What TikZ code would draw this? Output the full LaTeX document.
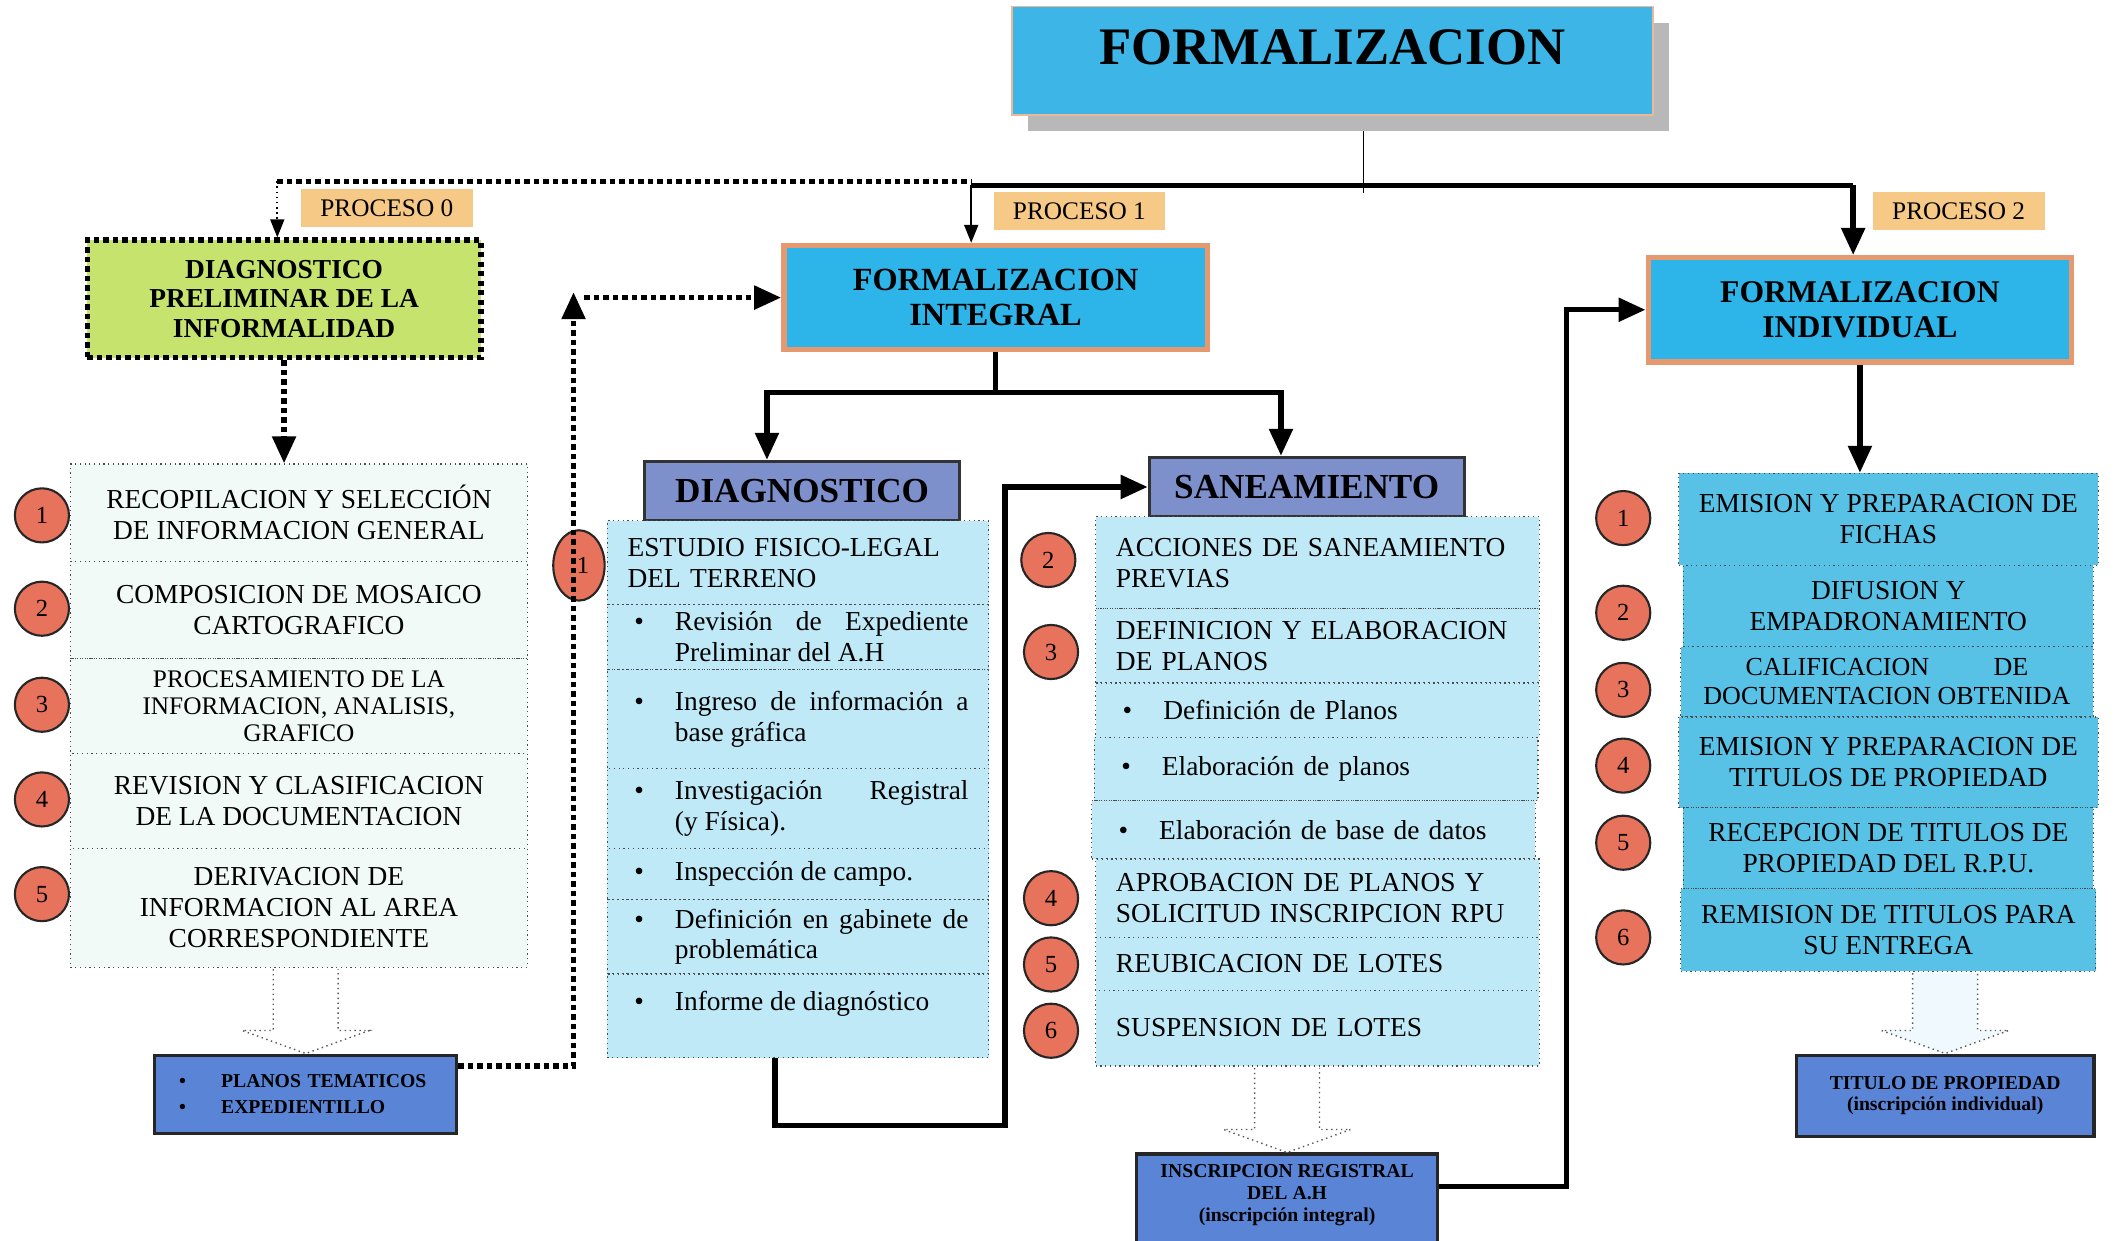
\documentclass[tikz,border=0pt]{standalone}
\usepackage{fontspec}
\setmainfont{Liberation Serif}
\usetikzlibrary{arrows.meta,calc,shadows,shapes.geometric}
\newlength{\pxu}
\setlength{\pxu}{0.13527mm}
\newcommand{\rowfont}{\fontsize{7.8}{8.8}\selectfont}
\newcommand{\bitem}[2][217]{\hspace*{5\pxu}\makebox[30\pxu][l]{\textbullet}\parbox[t]{#1\pxu}{#2}}
\definecolor{titleblue}{HTML}{3DB5E6}
\definecolor{formblue}{HTML}{2DB4E8}
\definecolor{salmon}{HTML}{E6986F}
\definecolor{peach}{HTML}{F7C986}
\definecolor{limegreen}{HTML}{C6E36E}
\definecolor{slate}{HTML}{7D90CC}
\definecolor{mint}{HTML}{F2FAF7}
\definecolor{paleblue}{HTML}{BFE9F7}
\definecolor{midblue}{HTML}{58C2E6}
\definecolor{royal}{HTML}{5A84D6}
\definecolor{coral}{HTML}{E8735C}
\tikzset{
    thickline/.style={line width=4\pxu},
    dotline/.style={line width=4\pxu, dash pattern=on 0.54mm off 0.41mm},
    bighead/.style={-{Triangle[length=2.7mm, width=2.3mm]}},
    smallhead/.style={-{Triangle[length=1.8mm, width=1.4mm]}},
    hollow/.style={draw=black!65, densely dotted, line width=0.4pt, fill=white},
    titlebox/.style={draw=salmon!70, fill=titleblue, minimum width=474\pxu, minimum height=80\pxu,
        text depth=20\pxu, font=\bfseries\fontsize{15}{17}\selectfont,
        drop shadow={shadow xshift=12\pxu, shadow yshift=-12\pxu, fill=black!28, opacity=1}},
    procbox/.style={fill=peach, minimum width=127\pxu, minimum height=28\pxu, inner sep=0pt,
        font=\fontsize{7.2}{8}\selectfont},
    prelimbox/.style={dotline, draw=black, fill=limegreen, minimum width=291\pxu, minimum height=87\pxu,
        align=center, font=\bfseries\fontsize{7.8}{8.4}\selectfont},
    formbox/.style={draw=salmon, line width=4\pxu, fill=formblue, minimum width=313\pxu,
        minimum height=77\pxu, align=center, font=\bfseries\fontsize{9.2}{10}\selectfont},
    headbox/.style={draw=black!80, line width=0.8pt, fill=slate, minimum width=233\pxu,
        minimum height=44\pxu, font=\bfseries\fontsize{10}{12}\selectfont},
    rowbox/.style={draw=black!70, densely dotted, line width=0.35pt, inner xsep=15\pxu, inner ysep=0pt,
        font=\rowfont},
    leftrow/.style={rowbox, fill=mint, minimum width=338\pxu, align=center},
    diagrow/.style={rowbox, fill=paleblue, minimum width=282\pxu, text width=252\pxu, align=left},
    sanearow/.style={rowbox, fill=paleblue, minimum width=328\pxu, text width=298\pxu, align=left},
    indrow/.style={rowbox, fill=midblue, minimum width=303\pxu, align=center},
    outbox/.style={draw=black!85, line width=0.9pt, fill=royal, align=center,
        font=\bfseries\fontsize{5.6}{6.2}\selectfont},
    numdot/.style={circle, draw=black!85, line width=0.6pt, fill=coral, minimum size=40\pxu,
        inner sep=0pt, font=\fontsize{7}{8}\selectfont}
}
\begin{document}
\begin{tikzpicture}[x=1\pxu, y=-1\pxu]
    \path[fill=white, use as bounding box] (0,0) rectangle (1568,917);

    \node[titlebox] (title) at (985,45) {FORMALIZACION};
    \node[procbox] (proc0) at (286,154) {PROCESO 0};
    \node[procbox] (proc1) at (798,156) {PROCESO 1};
    \node[procbox] (proc2) at (1448,156) {PROCESO 2};
    \node[prelimbox] (prelim) at (210,221) {DIAGNOSTICO\\PRELIMINAR DE LA\\INFORMALIDAD};
    \node[formbox] (integral) at (736,220) {FORMALIZACION\\INTEGRAL};
    \node[formbox, font=\bfseries\fontsize{9}{10.2}\selectfont] (individual) at (1375,229) {FORMALIZACION\\INDIVIDUAL};

    \node[leftrow, minimum height=72\pxu] (l1) at (221,379) {RECOPILACION Y SELECCIÓN\\DE INFORMACION GENERAL};
    \node[leftrow, minimum height=72\pxu] (l2) at (221,451) {COMPOSICION DE MOSAICO\\CARTOGRAFICO};
    \node[leftrow, minimum height=70\pxu, font=\fontsize{7.2}{7.7}\selectfont] (l3) at (221,522) {PROCESAMIENTO DE LA\\INFORMACION, ANALISIS,\\GRAFICO};
    \node[leftrow, minimum height=70\pxu] (l4) at (221,592) {REVISION Y CLASIFICACION\\DE LA DOCUMENTACION};
    \node[leftrow, minimum height=88\pxu] (l5) at (221,671) {DERIVACION DE\\INFORMACION AL AREA\\CORRESPONDIENTE};
    \node[numdot] (nl1) at (31,381) {1};
    \node[numdot] (nl2) at (31,450) {2};
    \node[numdot] (nl3) at (31,521) {3};
    \node[numdot] (nl4) at (31,591) {4};
    \node[numdot] (nl5) at (31,661) {5};
    \node[outbox, minimum width=223\pxu, minimum height=58\pxu, text width=187\pxu, inner xsep=18\pxu,
        align=left, font=\bfseries\fontsize{5.6}{7.3}\selectfont] (planos) at (226,809)
        {\makebox[31\pxu][l]{\textbullet}PLANOS TEMATICOS\\\makebox[31\pxu][l]{\textbullet}EXPEDIENTILLO};

    \node[headbox] (diaghead) at (593,363) {DIAGNOSTICO};
    \node[diagrow, minimum height=62\pxu] (d1) at (590,416) {ESTUDIO FISICO-LEGAL\\DEL TERRENO};
    \node[diagrow, align=justify, minimum height=48\pxu] (d2) at (590,471) {\bitem{Revisión de Expediente\linebreak Preliminar del A.H}};
    \node[diagrow, align=justify, minimum height=73\pxu] (d3) at (590,531.5) {\bitem{Ingreso de información a\linebreak base gráfica}};
    \node[diagrow, align=justify, minimum height=59\pxu] (d4) at (590,597.5) {\bitem{Investigación Registral\linebreak (y Física).}};
    \node[diagrow, align=justify, minimum height=38\pxu] (d5) at (590,646) {\bitem{Inspección de campo.}};
    \node[diagrow, align=justify, minimum height=55\pxu] (d6) at (590,692.5) {\bitem{Definición en gabinete de\linebreak problemática}};
    \node[diagrow, align=justify, minimum height=62\pxu, text depth=22\pxu] (d7) at (590,751) {\bitem{Informe de diagnóstico}};
    \node[numdot, ellipse, minimum width=38\pxu, minimum height=52\pxu] (nd1) at (428,418) {\hspace*{6\pxu}1};

    \node[headbox] (saneahead) at (966,360) {SANEAMIENTO};
    \node[sanearow, minimum height=68\pxu] (s1) at (974,416) {ACCIONES DE SANEAMIENTO\\PREVIAS};
    \node[sanearow, minimum height=55\pxu] (s2) at (974,477.5) {DEFINICION Y ELABORACION\\DE PLANOS};
    \node[sanearow, minimum height=40\pxu] (s3) at (974,525) {\bitem[263]{Definición de Planos}};
    \node[sanearow, minimum height=47\pxu] (s4) at (973,568.5) {\bitem[263]{Elaboración de planos}};
    \node[sanearow, minimum height=43\pxu] (s5) at (971,613.5) {\bitem[263]{Elaboración de base de datos}};
    \node[sanearow, minimum height=58\pxu] (s6) at (974,664) {APROBACION DE PLANOS Y\\SOLICITUD INSCRIPCION RPU};
    \node[sanearow, minimum height=39\pxu] (s7) at (974,712.5) {REUBICACION DE LOTES};
    \node[sanearow, minimum height=56\pxu] (s8) at (974,760) {SUSPENSION DE LOTES};
    \node[numdot] (ns2) at (775,414) {2};
    \node[numdot] (ns3) at (777,482) {3};
    \node[numdot] (ns4) at (777,664) {4};
    \node[numdot] (ns5) at (777,713) {5};
    \node[numdot] (ns6) at (777,762) {6};
    \node[outbox, anchor=north, minimum width=223\pxu, inner ysep=8\pxu, text depth=22\pxu] (insc) at (951.5,852)
        {INSCRIPCION REGISTRAL\\DEL A.H\\(inscripción integral)};

    \node[indrow, minimum height=68\pxu] (i1) at (1396,384) {EMISION Y PREPARACION DE\\FICHAS};
    \node[indrow, minimum height=60\pxu] (i2) at (1396,448) {DIFUSION Y\\EMPADRONAMIENTO};
    \node[indrow, minimum height=52\pxu, minimum width=305\pxu, font=\fontsize{7.4}{8.2}\selectfont] (i3) at (1395,504)
        {\setbox0\hbox{DOCUMENTACION OBTENIDA}\makebox[0.77\wd0][s]{CALIFICACION DE}\\DOCUMENTACION OBTENIDA};
    \node[indrow, minimum height=67\pxu] (i4) at (1396,563.5) {EMISION Y PREPARACION DE\\TITULOS DE PROPIEDAD};
    \node[indrow, minimum height=60\pxu] (i5) at (1396,627) {RECEPCION DE TITULOS DE\\PROPIEDAD DEL R.P.U.};
    \node[indrow, minimum height=61\pxu] (i6) at (1396,687.5) {REMISION DE TITULOS PARA\\SU ENTREGA};
    \node[numdot] (ni1) at (1200,383) {1};
    \node[numdot] (ni2) at (1200,453) {2};
    \node[numdot] (ni3) at (1200,510) {3};
    \node[numdot] (ni4) at (1200,566) {4};
    \node[numdot] (ni5) at (1200,623) {5};
    \node[numdot] (ni6) at (1200,693) {6};
    \node[outbox, minimum width=220\pxu, minimum height=60\pxu] (titulo) at (1438,810) {TITULO DE PROPIEDAD\\(inscripción individual)};

    \coordinate (hubtop) at (1008,97);
    \coordinate (hub) at (1008,143);
    \coordinate (bus0) at (205,134);
    \coordinate (bus1) at (718,137);
    \coordinate (bus2) at (1370,137);
    \draw[line width=1.2\pxu] (hubtop) -- (hub);
    \draw[dotline] (bus0) -- (bus1 |- bus0);
    \draw[thickline] (bus1) -- (bus2);
    \draw[densely dotted, line width=1.2\pxu, smallhead] (bus0) -- (bus0 |- prelim.north);
    \draw[line width=1.5\pxu, smallhead] (bus1) -- (bus1 |- integral.north);
    \draw[thickline, bighead] (bus2) -- (bus2 |- individual.north);

    \draw[dotline, bighead] (prelim.south) -- (prelim.south |- l1.north);
    \draw[hollow] ($(planos.north |- l5.south)+(-24,1)$) -- ($(planos.north)+(-24,-17)$) -- ($(planos.north)+(-47,-17)$)
        -- (planos.north) -- ($(planos.north)+(47,-17)$) -- ($(planos.north)+(24,-17)$) -- ($(planos.north |- l5.south)+(24,1)$);
    \coordinate (bendA) at (424,788);
    \coordinate (upend) at (424,216);
    \coordinate (hstart) at (432,220);
    \draw[dotline, bighead] (planos.east |- bendA) -- (bendA) -- (upend);
    \draw[dotline, bighead] (hstart) -- (integral.west);

    \coordinate (split) at (736,290);
    \coordinate (splitL) at (567,290);
    \coordinate (splitR) at (947,290);
    \draw[thickline] (integral.south) -- (split);
    \draw[thickline, bighead] (split) -- (splitL) -- (splitL |- diaghead.north);
    \draw[thickline, bighead] (split) -- (splitR) -- (splitR |- saneahead.north);

    \coordinate (loopD) at (573,832);
    \coordinate (loopE) at (743,832);
    \coordinate (loopF) at (743,360);
    \draw[thickline, bighead] (d7.south -| loopD) -- (loopD) -- (loopE) -- (loopF) -- (saneahead.west);

    \draw[hollow] ($(insc.north |- s8.south)+(-24,1)$) -- ($(insc.north)+(-24,-17)$) -- ($(insc.north)+(-47,-17)$)
        -- (insc.north) -- ($(insc.north)+(47,-17)$) -- ($(insc.north)+(24,-17)$) -- ($(insc.north |- s8.south)+(24,1)$);
    \coordinate (loopG) at (1158,877);
    \coordinate (loopH) at (1158,229);
    \draw[thickline, bighead] (insc.east |- loopG) -- (loopG) -- (loopH) -- (individual.west);

    \draw[thickline, bighead] (individual.south) -- (individual.south |- i1.north);
    \draw[hollow, fill=cyan!6] ($(titulo.north |- i6.south)+(-24,1)$) -- ($(titulo.north)+(-24,-17)$) -- ($(titulo.north)+(-47,-17)$)
        -- (titulo.north) -- ($(titulo.north)+(47,-17)$) -- ($(titulo.north)+(24,-17)$) -- ($(titulo.north |- i6.south)+(24,1)$);
\end{tikzpicture}
\end{document}
